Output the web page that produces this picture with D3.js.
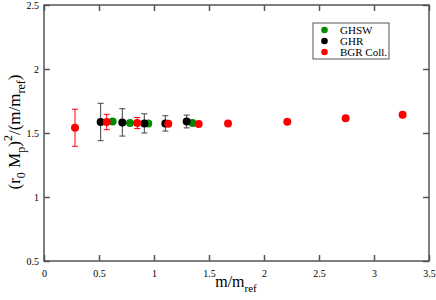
<!DOCTYPE html>
<html><head><meta charset="utf-8">
<script src="https://cdn.jsdelivr.net/npm/d3@7"></script>
<style>body{margin:0;background:#fff}svg{display:block}text{font-family:"Liberation Serif","Times New Roman",serif}</style>
</head><body><svg id="c" width="436" height="300"></svg>
<script>
const xTicks = [0, 0.5, 1, 1.5, 2, 2.5, 3, 3.5];
const yTicks = [0.5, 1, 1.5, 2, 2.5];
const seriesNames = ["GHSW", "GHR", "BGR Coll."];
const seriesColors = ["#008c00", "#000000", "#ff0000"];
const barColors = ["#008c00", "#444444", "#ff0000"];
const ghswX = [0.624, 0.782, 0.948, 1.35];
const ghswY = [1.59, 1.578, 1.575, 1.578];
const ghswErr = [0, 0, 0, 0];
const ghrX = [0.515, 0.712, 0.912, 1.103, 1.297];
const ghrY = [1.586, 1.583, 1.575, 1.575, 1.59];
const ghrErr = [0.146, 0.107, 0.075, 0.06, 0.05];
const bgrX = [0.282, 0.57, 0.848, 1.13, 1.406, 1.673, 2.212, 2.742, 3.26];
const bgrY = [1.541, 1.586, 1.578, 1.573, 1.57, 1.574, 1.588, 1.615, 1.643];
const bgrErr = [0.145, 0.06, 0.043, 0, 0, 0, 0, 0, 0];

const svg = d3.select("#c");
const L = 44, R = 429, T = 5, B = 261;
const x = d3.scaleLinear().domain([0, 3.5]).range([L, R]);
const y = d3.scaleLinear().domain([0.5, 2.5]).range([B, T]);
const axisCol = "#555";

svg.append("rect").attr("x", L).attr("y", T).attr("width", R - L).attr("height", B - T)
  .attr("fill", "none").attr("stroke", axisCol).attr("stroke-width", 1.5);

const fmt = d => d3.format("")(d);
const gx = svg.append("g").attr("transform", `translate(0,${B})`)
  .call(d3.axisBottom(x).tickValues(xTicks).tickSize(-6).tickPadding(9).tickFormat(fmt));
const gxt = svg.append("g").attr("transform", `translate(0,${T})`)
  .call(d3.axisTop(x).tickValues(xTicks).tickSize(-6).tickFormat(""));
const gy = svg.append("g").attr("transform", `translate(${L},0)`)
  .call(d3.axisLeft(y).tickValues(yTicks).tickSize(-6).tickPadding(9).tickFormat(fmt));
const gyr = svg.append("g").attr("transform", `translate(${R},0)`)
  .call(d3.axisRight(y).tickValues(yTicks).tickSize(-6).tickFormat(""));
[gx, gxt, gy, gyr].forEach(g => {
  g.select(".domain").remove();
  g.selectAll(".tick line").attr("stroke", axisCol).attr("stroke-width", 1.5);
  g.selectAll("text").attr("font-family", "Liberation Serif").attr("font-size", 10).attr("fill", "#000");
});
gy.selectAll(".tick text").attr("dx", 4);

const series = [
  {xs: ghswX, ys: ghswY, es: ghswErr, i: 0},
  {xs: ghrX, ys: ghrY, es: ghrErr, i: 1},
  {xs: bgrX, ys: bgrY, es: bgrErr, i: 2}
];
const plot = svg.append("g");
series.forEach(s => {
  const pts = s.xs.map((v, k) => ({x: v, y: s.ys[k], e: s.es[k]}));
  const g = plot.append("g");
  const eb = pts.filter(p => p.e > 0);
  const col = barColors[s.i];
  g.selectAll(".v").data(eb).join("line")
    .attr("x1", p => x(p.x)).attr("x2", p => x(p.x))
    .attr("y1", p => y(p.y - p.e)).attr("y2", p => y(p.y + p.e))
    .attr("stroke", col).attr("stroke-width", 1);
  [1, -1].forEach(sg => {
    g.selectAll(".c" + sg).data(eb).join("line")
      .attr("x1", p => x(p.x) - 3).attr("x2", p => x(p.x) + 3)
      .attr("y1", p => y(p.y + sg * p.e)).attr("y2", p => y(p.y + sg * p.e))
      .attr("stroke", col).attr("stroke-width", 1);
  });
  g.selectAll("circle").data(pts).join("circle")
    .attr("cx", p => x(p.x)).attr("cy", p => y(p.y)).attr("r", 4)
    .attr("fill", seriesColors[s.i]);
});

const lg = svg.append("g");
lg.append("rect").attr("x", 313).attr("y", 23).attr("width", 76).attr("height", 36)
  .attr("fill", "#fff").attr("stroke", axisCol).attr("stroke-width", 1);
seriesNames.forEach((n, i) => {
  lg.append("circle").attr("cx", 324.5).attr("cy", 30 + i * 11).attr("r", 3.3).attr("fill", seriesColors[i]);
  lg.append("text").attr("x", 340).attr("y", 33.8 + i * 11).attr("font-size", 11).text(n);
});

const xt = svg.append("text").attr("x", 236).attr("y", 287).attr("text-anchor", "middle").attr("font-size", 16);
xt.append("tspan").text("m/m");
xt.append("tspan").attr("font-size", 11).attr("dy", 5).text("ref");

const yt = svg.append("text").attr("transform", "translate(20,132) rotate(-90)").attr("text-anchor", "middle").attr("font-size", 17);
yt.append("tspan").text("(r");
yt.append("tspan").attr("font-size", 12).attr("dy", 5).text("0");
yt.append("tspan").attr("dy", -5).text(" M");
yt.append("tspan").attr("font-size", 12).attr("dy", 5).text("p");
yt.append("tspan").attr("dy", -5).text(")");
yt.append("tspan").attr("font-size", 12).attr("dy", -8).text("2");
yt.append("tspan").attr("dy", 8).text("/(m/m");
yt.append("tspan").attr("font-size", 12).attr("dy", 5).text("ref");
yt.append("tspan").attr("dy", -5).text(")");
</script></body></html>
